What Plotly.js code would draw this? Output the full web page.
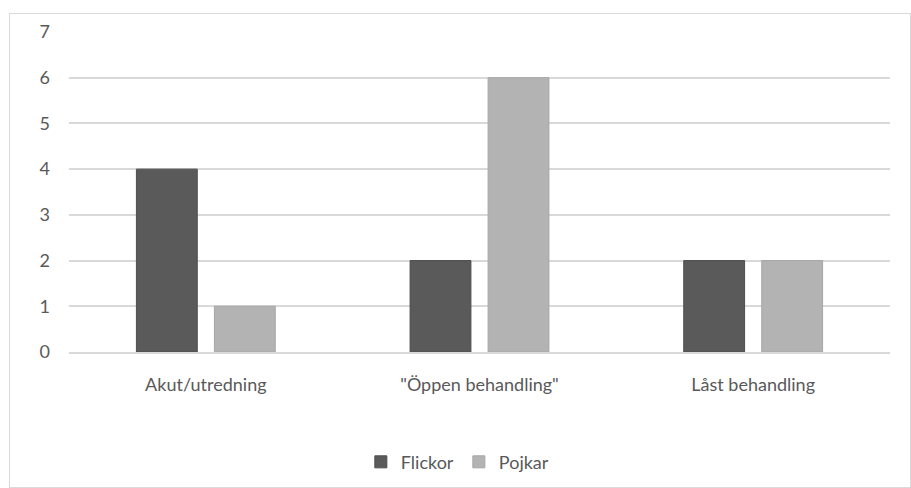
<!DOCTYPE html>
<html><head><meta charset="utf-8">
<script src="https://cdn.plot.ly/plotly-3.0.1.min.js"></script>
<style>
html,body{margin:0;padding:0;background:#fff;}
#wrap{position:relative;width:911px;height:488px;}
#chart{width:911px;height:488px;}
#frame{position:absolute;left:9px;top:13px;width:900px;height:473px;border:1px solid #d9d9d9;pointer-events:none;}
</style></head>
<body>
<div id="wrap"><div id="chart"></div><div id="frame"></div></div>
<script>
const categories = ["Akut/utredning", "\"Öppen behandling\"", "Låst behandling"];
const flickor = [4, 2, 2];
const pojkar = [1, 6, 2];
const seriesNames = ["Flickor", "Pojkar"];
const yTicks = [0, 1, 2, 3, 4, 5, 6, 7];

const font = {family: "Lato, 'Open Sans', sans-serif", size: 18, color: "#595959"};
const data = [
  {type: "bar", name: seriesNames[0], x: categories, y: flickor,
   marker: {color: "#5a5a5a", line: {color: "#4d4d4d", width: 1}}},
  {type: "bar", name: seriesNames[1], x: categories, y: pojkar,
   marker: {color: "#b3b3b3", line: {color: "#a6a6a6", width: 1}}}
];
const layout = {
  width: 911, height: 488,
  margin: {l: 69, r: 21, t: 32, b: 136, autoexpand: false},
  paper_bgcolor: "#fff", plot_bgcolor: "#fff",
  font: font,
  barmode: "group", bargap: 0.43, bargroupgap: 0.22,
  showlegend: true,
  legend: {orientation: "h", x: 0.473, xanchor: "center", yref: "container", y: 0.053, yanchor: "middle",
           font: font, traceorder: "normal", itemwidth: 30, tracegroupgap: 0},
  xaxis: {type: "category", showgrid: false, showline: true, linecolor: "#d9d9d9", linewidth: 2,
          ticks: "", tickfont: font, fixedrange: true, ticklabelstandoff: 15, automargin: false},
  yaxis: {range: [0, 7], tickvals: yTicks, showgrid: true, gridcolor: "#d9d9d9", gridwidth: 2,
          zeroline: false, showline: false, ticks: "", ticklabelstandoff: 18, tickfont: font, automargin: false}
};
Plotly.newPlot("chart", data, layout, {displayModeBar: false, staticPlot: true});
</script>
</body></html>
